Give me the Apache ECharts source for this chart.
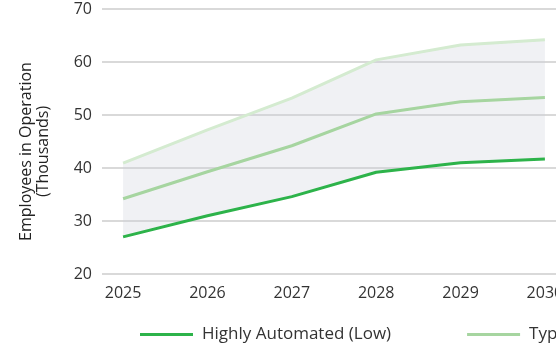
<!DOCTYPE html>
<html>
<head>
<meta charset="utf-8">
<script src="https://cdn.jsdelivr.net/npm/echarts@6/dist/echarts.min.js"></script>
<style>
  html, body { margin: 0; padding: 0; background: #fff; overflow: hidden; }
  #chart { width: 1100px; height: 345px; }
</style>
</head>
<body>
<div id="chart"></div>
<script>
// Projected workforce scenarios (thousands of employees)
const years = [2025, 2026, 2027, 2028, 2029, 2030];
const lowAutomated = [27.0, 31.0, 34.6, 39.2, 41.0, 41.7];
const typical = [34.2, 39.3, 44.2, 50.2, 52.5, 53.3];
const high = [40.9, 47.2, 53.2, 60.4, 63.2, 64.2];
const seriesNames = ['Highly Automated (Low)', 'Typical (Mid)', 'Minimally Automated (High)'];
const yTicks = [20, 30, 40, 50, 60, 70];

const pairs = (vals) => years.map((y, i) => [y, vals[i]]);

const font = '"Open Sans", "Noto Sans", sans-serif';
const chart = echarts.init(document.getElementById('chart'), null, { renderer: 'canvas' });

// Shaded range between the low and high scenarios, drawn as one polygon
function renderBand(params, api) {
  const upper = years.map((y, i) => api.coord([y, high[i]]));
  const lower = years.map((y, i) => api.coord([y, lowAutomated[i]])).reverse();
  return {
    type: 'polygon',
    shape: { points: upper.concat(lower) },
    style: { fill: 'rgba(205,210,220,0.3)' },
    silent: true
  };
}

chart.setOption({
  animation: false,
  textStyle: { fontFamily: font },
  grid: { left: 102, right: 534, top: 9, bottom: 71, outerBoundsMode: 'none' },
  legend: {
    left: 140,
    top: 326,
    padding: 0,
    itemWidth: 53,
    itemHeight: 3,
    itemGap: 76,
    icon: 'rect',
    textStyle: { fontSize: 17, color: '#333', fontFamily: font, padding: [0, 0, 0, 4] },
    data: seriesNames
  },
  xAxis: {
    type: 'value',
    min: 2024.75,
    max: 2030.25,
    axisLine: { show: false },
    axisTick: { show: false },
    splitLine: { show: false },
    axisLabel: {
      customValues: years,
      fontSize: 16,
      color: '#333',
      margin: 11,
      formatter: (v) => String(v)
    }
  },
  yAxis: {
    type: 'value',
    min: yTicks[0],
    max: yTicks[yTicks.length - 1],
    interval: 10,
    name: 'Employees in Operation\n(Thousands)',
    nameLocation: 'middle',
    nameGap: 50,
    nameMoveOverlap: false,
    nameTextStyle: { fontSize: 16, color: '#222', lineHeight: 17, padding: [0, 20, 0, 0] },
    axisLine: { show: false },
    axisTick: { show: false },
    axisLabel: { fontSize: 16, color: '#333', margin: 10 },
    splitLine: { lineStyle: { color: '#d9d9d9', width: 2 } }
  },
  series: [
    {
      name: '_band',
      type: 'custom',
      renderItem: renderBand,
      data: [0],
      silent: true,
      z: 1
    },
    {
      name: seriesNames[2],
      type: 'line',
      data: pairs(high),
      symbol: 'none',
      lineStyle: { color: '#d4ebd0', width: 3 },
      itemStyle: { color: '#d4ebd0' },
      z: 3
    },
    {
      name: seriesNames[1],
      type: 'line',
      data: pairs(typical),
      symbol: 'none',
      lineStyle: { color: '#a6d5a0', width: 3 },
      itemStyle: { color: '#a6d5a0' },
      z: 4
    },
    {
      name: seriesNames[0],
      type: 'line',
      data: pairs(lowAutomated),
      symbol: 'none',
      lineStyle: { color: '#2db34a', width: 3 },
      itemStyle: { color: '#2db34a' },
      z: 5
    }
  ]
});
</script>
</body>
</html>
